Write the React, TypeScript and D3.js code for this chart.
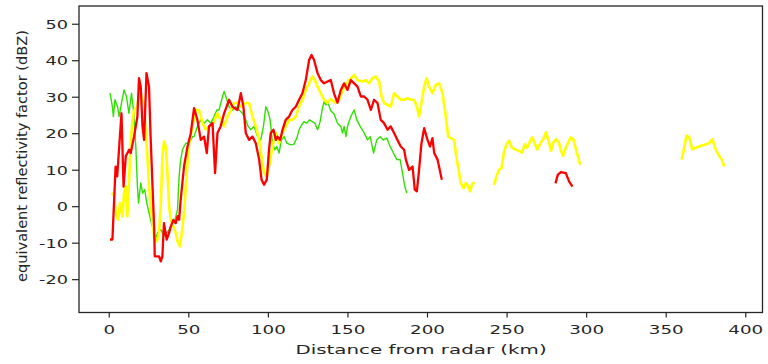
import React from "react";
import * as d3 from "d3";

// distance (km), reflectivity (dBZ)
const greenTrace: [number, number][] = [
  [0.5, 31.1], [2, 27.4], [2.6, 24.7], [3.6, 29.3], [5.2, 27.4], [6.2, 24.7], [7.7, 28.4], [9.3, 32],
  [10.8, 30.2], [12.4, 25.6], [14, 31.1], [15.2, 26.5], [16.7, 16.5], [17.7, 5.6], [18.4, 1], [19.8, 6.5],
  [20.9, 3.7], [22.3, 4.7], [23.6, 1], [25, -1.7], [26.5, -4.5], [27.8, -6.3], [29.2, -9], [30.3, -7.2],
  [32.4, -6.3], [34.5, -8], [36.6, -7], [38.7, -5.5], [40.8, -4.5], [42.9, -0.8], [43.9, 8.3], [44.9, 12.9],
  [46, 15.6], [48.1, 17.4], [50.2, 17.4], [52.3, 19.2], [53.3, 19.2], [55.4, 22], [57.5, 23.8], [59.6, 22.9],
  [61.7, 23.8], [63.8, 22.9], [65.9, 24.7], [67.6, 26.5], [69, 26.5], [71.2, 30.2], [72.2, 31.6], [73.9, 29.3],
  [75.3, 27.4], [77.4, 26.5], [79.5, 27.4], [81.6, 26.5], [83.7, 25.6], [85.8, 23.8], [87.3, 22], [88.9, 21.1],
  [91, 22], [93.2, 19.2], [95.2, 18.3], [96.9, 22], [98.4, 27.4], [99.8, 26], [101.1, 23.8], [102.6, 17.4],
  [104, 15.6], [105.3, 16.5], [106.7, 14.7], [108.2, 18.3], [109.9, 19.2], [111.6, 17.4], [113.6, 17], [115.8, 17],
  [117.9, 18.8], [119.3, 21.1], [120.8, 22.4], [122.4, 23.3], [124.1, 22.9], [125.8, 23.8], [127.7, 23.3], [129.2, 22.9],
  [130.9, 21.1], [132.5, 23.3], [134, 27], [135, 28.8], [136.1, 27.9], [137.5, 28.4], [139.2, 26.3], [141.3, 25.4],
  [143.4, 22.9], [145.5, 22], [146.6, 20.2], [147.6, 22], [148.7, 19.2], [149.7, 22], [151.8, 24.7], [153.9, 26.5],
  [155.6, 23.8], [157.7, 22], [160.2, 20.2], [162.3, 18.3], [164, 19.2], [166.1, 14.7], [168.1, 18.3], [170.2, 19.2],
  [172.3, 18.3], [174.4, 18.8], [176.5, 16.5], [178.6, 14.7], [180.7, 12.9], [182.8, 12.9], [184.3, 9.2], [185.7, 5.6],
  [187, 3.7],
];

const redNear: [number, number][] = [
  [0.5, -9], [2, -9], [4, 11], [5, 8.3], [7.7, 25.6], [9, 5.5], [10.4, 13.8], [12.5, 15.6],
  [13.5, 14.7], [15.6, 19.2], [17.7, 24.7], [18.7, 35.2], [19.8, 32.9], [20.9, 22], [21.9, 18.3], [23.4, 36.6],
  [25, 32.9], [26, 19.2], [27.2, 5.6], [28.2, -5.4], [28.6, -13.6], [31.3, -13.6], [32.4, -15], [33.4, -13.6],
  [34.4, -4.5], [36.1, -9], [37.6, -7.2], [38.7, -5.4], [40.3, -3.6], [41.8, -4.5], [42.9, -2.6], [43.9, -3.6],
  [44.9, 1.9], [47, 11], [49.2, 16.5], [51.2, 20], [53.3, 27], [55.4, 23.8], [57.5, 18.3], [59.6, 19.2],
  [61.3, 14.7], [62.7, 22], [64.9, 22.9], [66.5, 9.2], [68, 20.2], [70, 22], [72.2, 25.6], [75.3, 29.3],
  [77.4, 27.4], [80.6, 26.5], [82.7, 31.1], [84.3, 27.4], [85.8, 20.2], [87.9, 18.3], [90, 19.2], [92.1, 17.4],
  [94.2, 12.9], [95.7, 7.4], [97.3, 6], [99, 7.4], [100.4, 15.6], [101.5, 20.2], [103.2, 21.1], [104.7, 18.3],
  [105.7, 19.2], [107.4, 18.3], [108.9, 21.1], [110.9, 23.8], [113, 24.7], [115.1, 26.5], [117.2, 27.4], [119.3, 29.3],
  [121.4, 31.1], [123.5, 34.7], [125.6, 40.2], [127.1, 41.6], [128.7, 40.2], [130.9, 36.6], [132.9, 34.7], [135, 33.8],
  [137.2, 34.3], [139.2, 34.7], [141.3, 31], [143.4, 28.5], [145.5, 32], [147.6, 33.8], [149.7, 32], [151.8, 34.7],
  [153.9, 33.8], [156, 32.9], [158.1, 30.2], [160.2, 30.2], [162.3, 29.3], [164.4, 26.5], [166.4, 29.3], [168.6, 28.4],
  [170.6, 23.8], [172.7, 22.9], [174.9, 21.1], [176.9, 22], [179, 20.2], [181.1, 18.3], [183.2, 16.5], [185.3, 15.6],
  [186.4, 12.9], [188.4, 10.1], [190.6, 11], [192, 4.7], [193.3, 4.2], [194.7, 10.1], [196.2, 17.4], [197.9, 21.5],
  [200, 18.3], [201.6, 16.5], [203.1, 18.8], [204.2, 14.7], [206.3, 12.9], [209, 7.4],
];

const redFar: [number, number][] = [
  [280.4, 6.4], [281.9, 8.8], [284, 9.5], [286.9, 9.2], [289, 6.9], [291.1, 5.5],
];

const yellowNear: [number, number][] = [
  [1.4, 3.3], [3, 3.7], [4.1, -1.7], [5.5, -3.6], [6.8, 1], [8.3, -2.7], [9.3, 3.7], [10.4, 5.6],
  [11.4, -2.6], [13.5, 17.4], [14.6, 23.8], [15.6, 26.5], [17.3, 27.4], [18.7, 30.2], [19.8, 31.1], [20.9, 28.8],
  [21.9, 28.4], [22.9, 20.2], [24, 13.8], [25, 5.6], [26.1, 0.1], [27.2, -4.5], [28.2, -8.1], [29.9, -9.5],
  [31.3, -7.2], [32.4, 1], [33.4, 13.8], [34.4, 17.9], [35.5, 16.5], [36.6, 9.2], [37.6, 0.1], [38.7, -3.6],
  [40.3, -5.4], [41.8, -7.2], [42.9, -9.5], [44.5, -10.9], [45.6, -7.2], [47, -1.7], [48.7, 9.2], [50.2, 17.4],
  [52.3, 22], [54.4, 26.5], [56.4, 26.5], [58.6, 22.9], [60.7, 21.1], [62.7, 22], [65, 22.5], [68, 25.6],
  [70.1, 23.8], [72.2, 22], [74.3, 24.7], [76.4, 26.5], [78.4, 28.4], [80.6, 28.4], [82.7, 27.4], [85.8, 28.4],
  [87.9, 28.4], [90, 24.7], [92.1, 22], [94.2, 18.3], [95.7, 13.8], [97.3, 9.2], [99, 8.3], [100.4, 11],
  [102.6, 16.5], [104.7, 20.2], [106.7, 17.4], [108.9, 20.2], [110.9, 22], [113, 23.8], [115.1, 23.8], [117.2, 24.7],
  [119.3, 27.4], [121.4, 29.3], [123.5, 32], [125.6, 33.8], [127.7, 35.7], [129.2, 34.7], [130.9, 32.9], [132.9, 31.1],
  [135, 29.3], [137.2, 28.4], [139.2, 29.5], [142.3, 28.4], [144.4, 29.3], [147.6, 32.9], [150.7, 34.7], [153.9, 36.1],
  [156, 34.7], [159.1, 34.3], [161.2, 34.7], [163.3, 33.8], [165.4, 35.2], [167.5, 35.7], [169.6, 34.3], [171.1, 30.2],
  [172.7, 28.4], [174.9, 27.9], [176.9, 27.4], [179, 31.1], [181.1, 30.2], [183.2, 29.3], [185.3, 29.3], [187.4, 29.7],
  [189.5, 29.3], [191.6, 29.3], [193.3, 27.4], [194.7, 24.7], [196.2, 28.4], [197.9, 32.9], [199.4, 35.2], [201, 32.9],
  [203.1, 31.1], [205.2, 33.4], [207.3, 33.8], [209.4, 31.1], [211.5, 24.7], [213, 19.2], [214.6, 18.8], [216.7, 18.3],
  [218.4, 12.9], [219.9, 9.2], [220.9, 6.5], [222.6, 5.1], [224.1, 6.5], [225.5, 5.6], [226.8, 4.2], [228.3, 6.5],
  [229.7, 6.5],
];

const yellowMid: [number, number][] = [
  [241.8, 5.9], [243.3, 8.3], [244.8, 10.1], [246.5, 10.6], [248.2, 15.3], [249.7, 17.1], [251.2, 18.1], [253, 16.2],
  [255.1, 15.7], [257.3, 15.3], [259.4, 14.8], [261.1, 17.1], [262.6, 16.2], [264.1, 17.6], [265.8, 19], [267.6, 17.1],
  [269, 15.7], [271.2, 17.6], [272.7, 18.5], [274.4, 20.4], [276.1, 18.1], [277.6, 15.3], [279.1, 17.6], [280.8, 18.5],
  [282.5, 17.6], [284, 15.3], [285.2, 13.9], [286.9, 16.2], [288.4, 17.6], [289.9, 19], [291.6, 18.5], [293.3, 15.7],
  [294.8, 13.4], [295.9, 11.5],
];

const yellowFar: [number, number][] = [
  [359.8, 12.9], [361.3, 16.2], [362.8, 19.5], [364.5, 19], [366.3, 15.7], [368.9, 16.2], [372, 16.7], [375.2, 17.1],
  [377.4, 17.6], [379.1, 18.5], [380.6, 16.2], [382.7, 14.3], [384.9, 12.9], [386.4, 11],
];

const xTicks = [0, 50, 100, 150, 200, 250, 300, 350, 400];
const yTicks = [-20, -10, 0, 10, 20, 30, 40, 50];

const W = 768;
const H = 364;
const left = 79;
const right = 762.5;
const top = 6;
const bottom = 312.5;
const FONT = "DejaVu Sans, sans-serif";
const INK = "#262626";

export default function App() {
  const x = d3.scaleLinear().domain([-19, 410.5]).range([left, right]);
  const y = d3.scaleLinear().domain([-29, 55]).range([bottom, top]);
  const line = d3
    .line<[number, number]>()
    .x((d) => x(d[0]))
    .y((d) => y(d[1]));

  const traces = [
    { data: greenTrace, color: "#2fe000", width: 1.4 },
    { data: yellowNear, color: "#ffff00", width: 2.6 },
    { data: yellowMid, color: "#ffff00", width: 2.6 },
    { data: yellowFar, color: "#ffff00", width: 2.6 },
    { data: redNear, color: "#ff0000", width: 2.3 },
    { data: redFar, color: "#ff0000", width: 2.3 },
  ];

  return (
    <svg
      width={W}
      height={H}
      style={{ position: "absolute", left: 0, top: 0, background: "#fff" }}
    >
      <rect x={0} y={0} width={W} height={H} fill="#fff" />
      <defs>
        <clipPath id="plotArea">
          <rect x={left} y={top} width={right - left} height={bottom - top} />
        </clipPath>
      </defs>
      <g clipPath="url(#plotArea)" fill="none" strokeLinejoin="round" strokeLinecap="butt">
        {traces.map((t, i) => (
          <path key={i} d={line(t.data) ?? ""} stroke={t.color} strokeWidth={t.width} />
        ))}
      </g>
      <rect
        x={left}
        y={top}
        width={right - left}
        height={bottom - top}
        fill="none"
        stroke={INK}
        strokeWidth={1.3}
      />
      {xTicks.map((t) => (
        <g key={"x" + t}>
          <line x1={x(t)} x2={x(t)} y1={bottom} y2={bottom + 5} stroke={INK} strokeWidth={1.2} />
          <text
            transform={`translate(${x(t)},334) scale(1.5,1)`}
            textAnchor="middle"
            fontFamily={FONT}
            fontSize={12.2}
            fill={INK}
          >
            {t}
          </text>
        </g>
      ))}
      {yTicks.map((t) => (
        <g key={"y" + t}>
          <line x1={left - 7} x2={left} y1={y(t)} y2={y(t)} stroke={INK} strokeWidth={1.2} />
          <text
            transform={`translate(68,${y(t) + 4.5}) scale(1.45,1)`}
            textAnchor="end"
            fontFamily={FONT}
            fontSize={12.2}
            fill={INK}
          >
            {t}
          </text>
        </g>
      ))}
      <text
        transform={`translate(421,354) scale(1.55,1)`}
        textAnchor="middle"
        fontFamily={FONT}
        fontSize={12.8}
        fill={INK}
      >
        Distance from radar (km)
      </text>
      <text
        transform={`translate(26.5,156) rotate(-90)`}
        textAnchor="middle"
        fontFamily={FONT}
        fontSize={14.5}
        textLength={252}
        lengthAdjust="spacingAndGlyphs"
        fill={INK}
      >
        equivalent reflectivity factor (dBZ)
      </text>
    </svg>
  );
}
